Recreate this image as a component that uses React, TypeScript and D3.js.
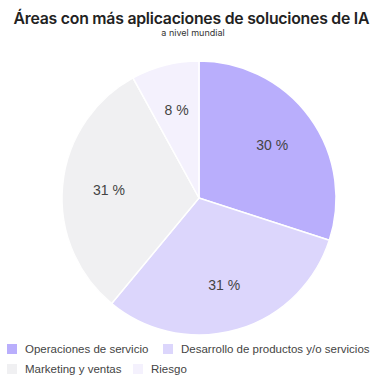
import React from "react";
import * as d3 from "d3";

const categories = ["Operaciones de servicio", "Desarrollo de productos y/o servicios", "Marketing y ventas", "Riesgo"];
const values = [30, 31, 31, 8];
const colors = ["#b9aefc", "#dcd6fc", "#f0f0f2", "#f4f1fd"];
const title = "Áreas con más aplicaciones de soluciones de IA";
const subtitle = "a nivel mundial";

const W = 381, H = 387;
const cx = 199, cy = 198, R = 137;

export default function App() {
  const pie = d3.pie<number>().sort(null).value((d) => d)(values);
  const arc = d3.arc<d3.PieArcDatum<number>>().innerRadius(0).outerRadius(R);
  const labelArc = d3.arc<d3.PieArcDatum<number>>().innerRadius(R * 0.66).outerRadius(R * 0.66);
  const legendPos = [
    { x: 7, y: 349 },
    { x: 163, y: 349 },
    { x: 7, y: 369 },
    { x: 133, y: 369 },
  ];
  return (
    <svg width={W} height={H} style={{ position: "absolute", left: 0, top: 0, background: "#fff" }}>
      <text x={191.5} y={24} textAnchor="middle" fontFamily="Inter" fontWeight={600} fontSize={15.8} fill="#222"
        textLength={356} lengthAdjust="spacing">
        {title}
      </text>
      <text x={193} y={36} textAnchor="middle" fontFamily="Inter" fontSize={9} fill="#333">
        {subtitle}
      </text>
      <g transform={`translate(${cx},${cy})`}>
        {pie.map((p, i) => (
          <path key={i} d={arc(p) || ""} fill={colors[i]} stroke="#fff" strokeWidth={1.5} />
        ))}
        {pie.map((p, i) => {
          const [x, y] = labelArc.centroid(p);
          return (
            <text key={i} x={x} y={y} textAnchor="middle" dominantBaseline="central" fontFamily="Liberation Sans, Arial" fontSize={14} fill="#444">
              {`${values[i]} %`}
            </text>
          );
        })}
      </g>
      {categories.map((c, i) => (
        <g key={i} transform={`translate(${legendPos[i].x},${legendPos[i].y})`}>
          <rect x={0} y={-5} width={10} height={10} fill={colors[i]} />
          <text x={18} y={0} dominantBaseline="central" fontFamily="Liberation Sans, Arial" fontSize={11.5} fill="#444">
            {c}
          </text>
        </g>
      ))}
    </svg>
  );
}
